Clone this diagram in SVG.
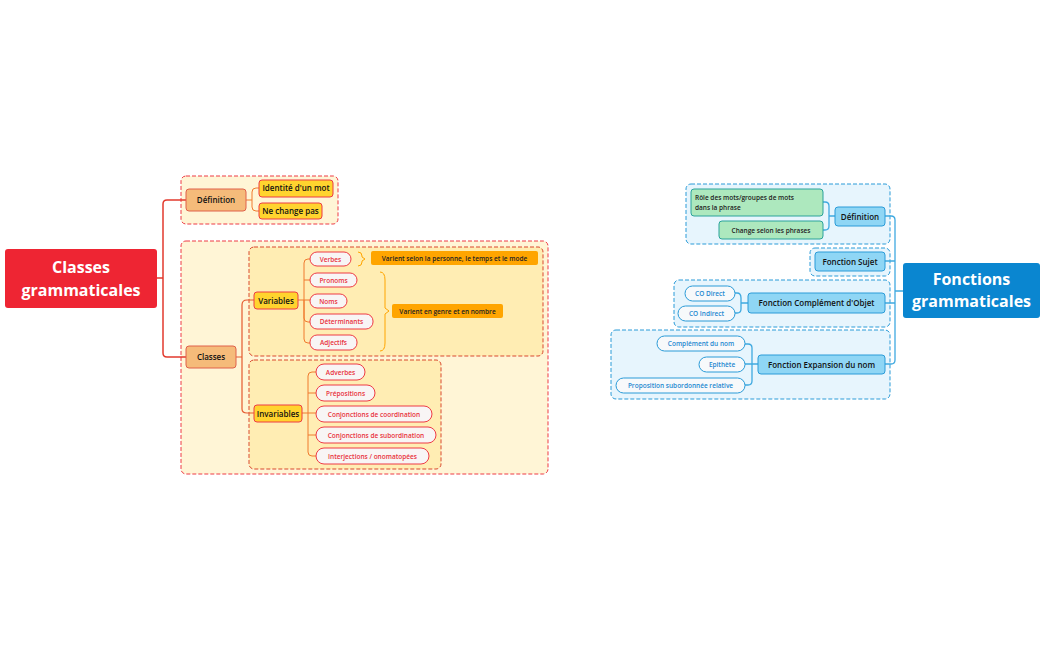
<svg xmlns="http://www.w3.org/2000/svg" width="1050" height="650" viewBox="0 0 1050 650">
<style>
text{font-family:"Open Sans","Liberation Sans",sans-serif}
.bR{fill:#FFF5D6;stroke:#EE3B45;stroke-dasharray:4 2;stroke-width:1}
.bR2{fill:#FFEDB3;stroke:#D9482E;stroke-dasharray:4 2;stroke-width:1}
.bB{fill:#E7F5FD;stroke:#2A9BD8;stroke-dasharray:4 2;stroke-width:1}
.cl{fill:none;stroke:#E23A2E;stroke-width:1.5}
.co{fill:none;stroke:#F07A2E;stroke-width:1}
.cb{fill:none;stroke:#3FA9E0;stroke-width:1.3}
.or{fill:#F5BB7A;stroke:#E0604A}
.ye{fill:#FFD42E;stroke:#EE3B45}
.lf{fill:#F8F5F5;stroke:#EE3B45}
.sm{fill:#FFA500}
.bl{fill:#8FD6F5;stroke:#2A9BD8}
.gr{fill:#ADE8BE;stroke:#2AA39B}
.lb{fill:#F7F9FB;stroke:#2A9BD8}
.t{font-size:8px;fill:#111;font-weight:600}
.tr{font-size:6.5px;fill:#E8323C;font-weight:600}
.tb{font-size:6.5px;fill:#1E88D0;font-weight:600}
.ts{font-size:6.5px;fill:#222;font-weight:600}
</style>
<g id="boundaries">
<rect class="bR" x="181" y="176" width="157" height="48" rx="5"/>
<rect class="bR" x="181" y="241" width="367" height="233" rx="5"/>
<rect class="bR2" x="249" y="247" width="294" height="109" rx="5"/>
<rect class="bR2" x="249" y="360" width="192" height="109" rx="5"/>
<rect class="bB" x="686" y="184" width="204" height="60" rx="5"/>
<rect class="bB" x="810" y="248" width="80" height="28" rx="5"/>
<rect class="bB" x="674" y="280" width="216" height="47" rx="5"/>
<rect class="bB" x="611" y="330" width="279" height="69" rx="5"/>
</g>
<g id="connectors">
<path class="cl" d="M157 278H163M163 278V204Q163 200 167 200H186M163 278V353Q163 357 167 357H186"/>
<path class="co" d="M246 200H252M252 200V192Q252 188 256 188H259M252 200V207Q252 211 256 211H259"/>
<path class="cl" d="M236 357H242M242 357V305Q242 300 247 300H254M242 357V409Q242 413 247 413H254" style="stroke-width:1.2;stroke:#E55A2E"/>
<path class="co" d="M298 300H304M304 300V263Q304 259 308 259H310M304 280H310M304 300H310M304 300V318Q304 322 308 322H310M304 300V339Q304 343 308 343H310"/>
<path class="co" d="M302 413H308M308 413V376Q308 372 312 372H316M308 393H316M308 413H316M308 435H316M308 413V452Q308 456 312 456H316"/>
<path d="M358 252Q362 252 362 256V257L365 259L362 261V262Q362 266 358 266" fill="none" stroke="#FFA500"/>
<path d="M380 272Q385 272 385 280V308L389 311L385 314V343Q385 351 380 351" fill="none" stroke="#FFA500"/>
<path class="cb" d="M903 291H895M895 291V220Q895 216 891 216H885M895 261H885M895 303H885M895 291V360Q895 364 891 364H885"/>
<path class="cb" d="M835 216H829M829 216V206Q829 202 825 202H823M829 216V226Q829 230 825 230H823"/>
<path class="cb" d="M748 303H741M741 303V298Q741 293 737 293H735M741 303V309Q741 313 737 313H735"/>
<path class="cb" d="M758 364H752M752 364V348Q752 344 748 344H745M752 364H745M752 364V381Q752 385 748 385H745"/>
</g>
<g id="classes-root"><rect x="5" y="249" width="152" height="59" rx="3" fill="#EE2533"/>
<text x="81" y="273" font-size="16" font-weight="700" fill="#fff" text-anchor="middle">Classes</text>
<text x="81" y="296" font-size="16" font-weight="700" fill="#fff" text-anchor="middle">grammaticales</text></g>
<g id="definition-l"><rect class="or" x="186" y="189" width="60" height="22" rx="3"/><text class="t" x="216" y="203" text-anchor="middle">Définition</text></g>
<g id="identite"><rect class="ye" x="259" y="180" width="74" height="17" rx="3"/><text class="t" x="296" y="191" text-anchor="middle">Identité d'un mot</text></g>
<g id="nechange"><rect class="ye" x="259" y="203" width="63" height="16" rx="3"/><text class="t" x="290.5" y="214" text-anchor="middle">Ne change pas</text></g>
<g id="classes"><rect class="or" x="186" y="346" width="50" height="22" rx="3"/><text class="t" x="211" y="360" text-anchor="middle">Classes</text></g>
<g id="variables"><rect class="ye" x="254" y="292" width="44" height="17" rx="3"/><text class="t" x="276" y="303.5" text-anchor="middle">Variables</text></g>
<g id="invariables"><rect class="ye" x="254" y="405" width="48" height="17" rx="3"/><text class="t" x="278" y="416.5" text-anchor="middle">Invariables</text></g>
<g id="verbes"><rect class="lf" x="310" y="252" width="41" height="14" rx="7"/><text class="tr" x="330.5" y="261.5" text-anchor="middle">Verbes</text></g>
<g id="pronoms"><rect class="lf" x="310" y="273" width="47" height="14" rx="7"/><text class="tr" x="333.5" y="282.5" text-anchor="middle">Pronoms</text></g>
<g id="noms"><rect class="lf" x="310" y="294" width="37" height="14" rx="7"/><text class="tr" x="328.5" y="303.5" text-anchor="middle">Noms</text></g>
<g id="determinants"><rect class="lf" x="310" y="314" width="63" height="15" rx="7"/><text class="tr" x="341.5" y="324" text-anchor="middle">Déterminants</text></g>
<g id="adjectifs"><rect class="lf" x="310" y="335" width="47" height="15" rx="7"/><text class="tr" x="333.5" y="345" text-anchor="middle">Adjectifs</text></g>
<g id="sum1"><rect class="sm" x="371" y="251" width="167" height="14" rx="2"/><text class="ts" x="454.5" y="260.5" text-anchor="middle">Varient selon la personne, le temps et le mode</text></g>
<g id="sum2"><rect class="sm" x="392" y="304" width="111" height="14" rx="2"/><text class="ts" x="447.5" y="313.5" text-anchor="middle">Varient en genre et en nombre</text></g>
<g id="adverbes"><rect class="lf" x="316" y="364" width="49" height="16" rx="8"/><text class="tr" x="340.5" y="374.5" text-anchor="middle">Adverbes</text></g>
<g id="prepositions"><rect class="lf" x="316" y="385" width="59" height="16" rx="8"/><text class="tr" x="345.5" y="395.5" text-anchor="middle">Prépositions</text></g>
<g id="conjcoord"><rect class="lf" x="316" y="406" width="116" height="16" rx="8"/><text class="tr" x="374" y="416.5" text-anchor="middle">Conjonctions de coordination</text></g>
<g id="conjsub"><rect class="lf" x="316" y="427" width="120" height="16" rx="8"/><text class="tr" x="376" y="437.5" text-anchor="middle">Conjonctions de subordination</text></g>
<g id="interj"><rect class="lf" x="316" y="448" width="113" height="16" rx="8"/><text class="tr" x="372.5" y="458.5" text-anchor="middle">Interjections / onomatopées</text></g>
<g id="fonctions-root"><rect x="903" y="263" width="137" height="55" rx="3" fill="#0A86D0"/>
<text x="971.5" y="285" font-size="16" font-weight="700" fill="#fff" text-anchor="middle">Fonctions</text>
<text x="971.5" y="307" font-size="16" font-weight="700" fill="#fff" text-anchor="middle">grammaticales</text></g>
<g id="definition-r"><rect class="bl" x="835" y="207" width="50" height="19" rx="3"/><text class="t" x="860" y="219.5" text-anchor="middle">Définition</text></g>
<g id="role"><rect class="gr" x="691" y="189" width="132" height="27" rx="3"/><text class="ts" x="695" y="200">Rôle des mots/groupes de mots</text><text class="ts" x="695" y="210">dans la phrase</text></g>
<g id="changeselon"><rect class="gr" x="719" y="221" width="104" height="18" rx="3"/><text class="ts" x="771" y="233" text-anchor="middle">Change selon les phrases</text></g>
<g id="sujet"><rect class="bl" x="815" y="252" width="70" height="19" rx="3"/><text class="t" x="850" y="264.5" text-anchor="middle">Fonction Sujet</text></g>
<g id="coobjet"><rect class="bl" x="748" y="293" width="137" height="20" rx="3"/><text class="t" x="816.5" y="306" text-anchor="middle">Fonction Complément d'Objet</text></g>
<g id="codirect"><rect class="lb" x="685" y="286" width="50" height="15" rx="7.5"/><text class="tb" x="710" y="296" text-anchor="middle">CO Direct</text></g>
<g id="coindirect"><rect class="lb" x="678" y="306" width="57" height="15" rx="7.5"/><text class="tb" x="706.5" y="316" text-anchor="middle">CO Indirect</text></g>
<g id="expansion"><rect class="bl" x="758" y="355" width="127" height="19" rx="3"/><text class="t" x="821.5" y="367.5" text-anchor="middle">Fonction Expansion du nom</text></g>
<g id="cdn"><rect class="lb" x="657" y="336" width="88" height="15" rx="7.5"/><text class="tb" x="701" y="346" text-anchor="middle">Complément du nom</text></g>
<g id="epithete"><rect class="lb" x="699" y="357" width="46" height="15" rx="7.5"/><text class="tb" x="722" y="367" text-anchor="middle">Epithète</text></g>
<g id="propsub"><rect class="lb" x="616" y="378" width="129" height="15" rx="7.5"/><text class="tb" x="680.5" y="388" text-anchor="middle">Proposition subordonnée relative</text></g>
</svg>
